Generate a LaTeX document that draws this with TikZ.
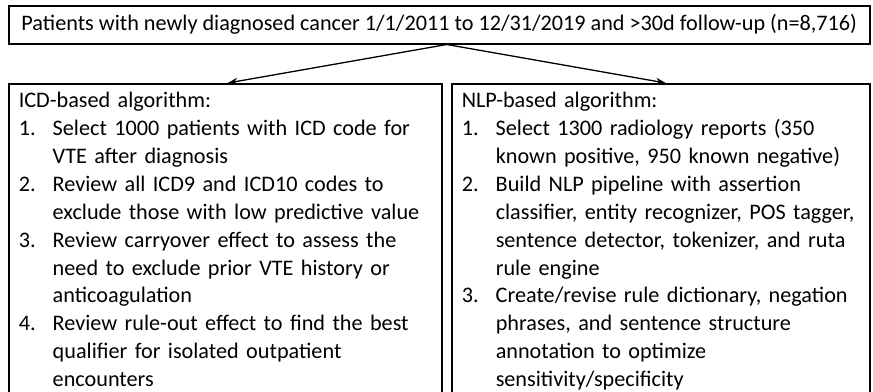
\documentclass[tikz,border=0pt]{standalone}
\usepackage{fontspec}
\setmainfont{Carlito}
\usetikzlibrary{positioning}
\usetikzlibrary{arrows.meta}
\tikzstyle{every box} = []
\tikzstyle{box} = [draw, line width=1.5pt, every box]
\tikzstyle{link} = [-{Stealth[length=10pt,width=7pt]}, line width=1.3pt]
\newcommand{\itm}[1]{\makebox[34pt][l]{#1}}
\newcommand{\cnt}{\hspace*{34pt}}

\begin{document}
\begin{tikzpicture}[x=1pt,y=1pt]
        \tikzstyle{every box} = [font=\fontsize{22.2}{27.9}\selectfont]
        \clip (0,0) rectangle (873,-391);

        \node[box, anchor=north west, minimum width=861pt, minimum height=38pt, inner sep=0pt] (cohort) at (8,-5)
            {Patients with newly diagnosed cancer 1/1/2011 to 12/31/2019 and >30d follow-up (n=8,716)};

        \node[box, anchor=north west, text width=413pt, align=left, inner xsep=10pt, inner ysep=8.5pt] (icd) at (8,-83)
            {ICD-based algorithm:\\
             \itm{1.}Select 1000 patients with ICD code for\\
             \cnt VTE after diagnosis\\
             \itm{2.}Review all ICD9 and ICD10 codes to\\
             \cnt exclude those with low predictive value\\
             \itm{3.}Review carryover effect to assess the\\
             \cnt need to exclude prior VTE history or\\
             \cnt anticoagulation\\
             \itm{4.}Review rule-out effect to find the best\\
             \cnt qualifier for isolated outpatient\\
             \cnt encounters};

        \node[box, anchor=north west, text width=398pt, align=left, inner xsep=10pt, inner ysep=8.5pt] (nlp) at (451,-83)
            {NLP-based algorithm:\\
             \itm{1.}Select 1300 radiology reports (350\\
             \cnt known positive, 950 known negative)\\
             \itm{2.}Build NLP pipeline with assertion\\
             \cnt classifier, entity recognizer, POS tagger,\\
             \cnt sentence detector, tokenizer, and ruta\\
             \cnt rule engine\\
             \itm{3.}Create/revise rule dictionary, negation\\
             \cnt phrases, and sentence structure\\
             \cnt annotation to optimize\\
             \cnt sensitivity/specificity};

        \draw[link] ([xshift=7.5pt]cohort.south) -- ([xshift=2.5pt]icd.north);
        \draw[link] ([xshift=7.5pt]cohort.south) -- ([xshift=5pt]nlp.north);
        % \draw[link] (cohort.south) -- (nlp.north);
\end{tikzpicture}
\end{document}
